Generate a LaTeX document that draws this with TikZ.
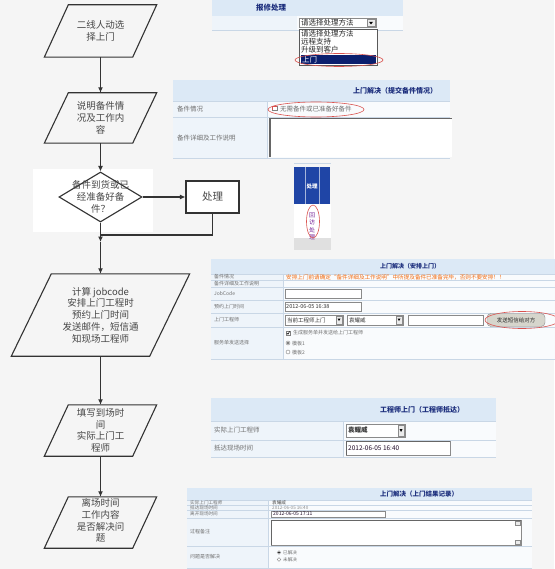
\documentclass[tikz,border=0pt]{standalone}
\usepackage{fontspec}
\setmainfont{Noto Sans CJK SC}
\usetikzlibrary{shapes.geometric,arrows.meta,calc}
\definecolor{bg}{HTML}{F5F5F5}
\definecolor{ln}{HTML}{333333}
\definecolor{ftxt}{HTML}{474747}
\definecolor{hdr}{HTML}{DCE9F6}
\definecolor{rowl}{HTML}{EEF4FA}
\definecolor{rowr}{HTML}{F9FBFD}
\definecolor{gridc}{HTML}{C9D7E6}
\definecolor{navy}{HTML}{1B2D7C}
\definecolor{labc}{HTML}{707070}
\definecolor{selc}{HTML}{0B1F6E}
\definecolor{redc}{HTML}{D9534F}
\definecolor{blu}{HTML}{1F45A6}
\definecolor{orgc}{HTML}{F26B10}
\definecolor{btnc}{HTML}{D6D5CC}
\definecolor{purp}{HTML}{7A2A9A}
\definecolor{inpc}{HTML}{8A8A8A}
\tikzset{
  flow/.style={draw=ln, line width=1.1pt},
  arr/.style={flow, -{Latex[length=5.5pt,width=5pt]}},
  pbox/.style={rectangle, inner sep=0pt, align=center, text=ftxt,
    font=\fontsize{9.5}{11.7}\selectfont},
  dia/.style={diamond, draw=ln, line width=1.1pt, inner sep=0pt,
    minimum width=83pt, minimum height=50pt, fill=white},
  procbox/.style={rectangle, draw=ln, line width=1.1pt, fill=white,
    minimum width=53pt, minimum height=32pt, inner sep=0pt,
    font=\fontsize{10.5}{12}\selectfont, text=ftxt},
  ttl/.style={inner sep=0pt, text=navy, font=\fontsize{7}{8}\selectfont\bfseries},
  lab/.style={anchor=west, inner sep=0pt, text=labc, font=\fontsize{6.5}{7}\selectfont},
  labs/.style={anchor=west, inner sep=0pt, text=labc, font=\fontsize{5}{5.5}\selectfont},
  val/.style={anchor=west, inner sep=0pt, text=black!85, font=\fontsize{7.5}{8}\selectfont},
  vals/.style={anchor=west, inner sep=0pt, text=black!80, font=\fontsize{5.5}{6}\selectfont},
  inp/.style={draw=inpc, fill=white, line width=0.5pt},
  gline/.style={draw=gridc, line width=0.5pt},
  ring/.style={draw=redc, line width=0.6pt},
  dbtn/.style={draw=inpc, fill=black!8, line width=0.4pt},
}
\begin{document}
\begin{tikzpicture}[x=1pt,y=-1pt]
\useasboundingbox (0,0) rectangle (554,569);
\fill[bg] (0,0) rectangle (554,569);
\fill[white] (33,169) rectangle (153,232);

% ---------------- flowchart ----------------
\node[pbox, minimum width=88pt, minimum height=52pt] (p1) at (100.5,31) {二线人动选\\择上门};
\node[pbox, minimum width=88pt, minimum height=50pt] (p2) at (100.5,118) {说明备件情\\况及工作内\\容};
\node[dia] (d) at (100.5,197) {};
\node[pbox] (dt) at (100.5,197) {备件到货或已\\经准备好备\\件？};
\node[procbox] (b) at (212.5,197) {处理};
\node[pbox, minimum width=138pt, minimum height=82pt] (p3) at (100.5,315) {计算 jobcode\\安排上门工程时\\预约上门时间\\发送邮件，短信通\\知现场工程师};
\node[pbox, minimum width=88pt, minimum height=51pt] (p4) at (100.5,430.5) {填写到场时\\间\\实际上门工\\程师};
\node[pbox, minimum width=88pt, minimum height=51pt] (p5) at (100.5,522.5) {};
\node[pbox] (p5t) at (100.5,520.5) {离场时间\\工作内容\\是否解决问\\题};
\foreach \n/\s in {p1/12,p2/12,p3/20,p4/12,p5/12}{
  \draw[flow] ([xshift=-\s pt]\n.south west) -- ([xshift=-\s pt]\n.south east)
    -- ([xshift=\s pt]\n.north east) -- ([xshift=\s pt]\n.north west) -- cycle;
}
\coordinate (j) at (100.5,235);
\coordinate (jt) at (100.5,242);
\draw[arr] (p1.south) -- (p2.north);
\draw[arr] (p2.south) -- (d.north);
\draw[arr] (d.east) -- (b.west);
\draw[arr] (d.south) -- (jt);
\draw[flow] (b.south) |- (j);
\draw[arr] (jt) -- (p3.north);
\draw[arr] (p3.south) -- (p4.north);
\draw[arr] (p4.south) -- (p5.north);

% ---------------- screenshot 1 ----------------
\fill[hdr] (212,0) rectangle (403,16);
\fill[rowl] (212,16) rectangle (297,30);
\fill[rowr] (297,16) rectangle (403,30);
\draw[gline] (212,30) -- (403,30);
\node[ttl, font=\fontsize{7.5}{8}\selectfont\bfseries] (s1t) at (271,7.5) {报修处理};
\draw[inp] (299,18) rectangle (376,27.5);
\node[val] (s1v) at (301,22.7) {请选择处理方法};
\draw[dbtn] (367,19.5) rectangle (375,26.5);
\fill[black] (369,21.8) -- (373,21.8) -- (371,24.5) -- cycle;
\draw[draw=black!65, fill=white, line width=0.8pt] (299,29) rectangle (377,65);
\node[val] (s1a) at (301,34) {请选择处理方法};
\node[val] (s1b) at (301,42) {远程支持};
\node[val] (s1c) at (301,50) {升级到客户};
\fill[selc] (300.5,55) rectangle (375.5,64);
\node[val, text=white] (s1d) at (302,59.5) {上门};
\draw[ring] (339,60) ellipse [x radius=44, y radius=6.5];

% ---------------- screenshot 2 ----------------
\fill[rowr] (173,80) rectangle (450,158);
\fill[hdr] (173,80) rectangle (450,101);
\fill[rowl] (173,101) rectangle (267,158);
\draw[gline] (173,101) -- (450,101) (173,117) -- (450,117) (173,158) -- (450,158) (267,101) -- (267,158);
\node[ttl] (s2t) at (395,91) {上门解决（提交备件情况）};
\node[lab] (s2l1) at (177,109) {备件情况};
\draw[draw=black!50, fill=white, line width=0.4pt] (272.5,106) rectangle (277,110.5);
\draw[redc, line width=0.7pt] (272.5,110.5) -- (272.5,106) -- (277,106);
\node[lab] (s2c) at (280,109) {无需备件或已准备好备件};
\draw[ring] (316,109.5) ellipse [x radius=48, y radius=7.5];
\node[lab] (s2l2) at (177,138) {备件详细及工作说明};
\fill[white] (270,118.5) rectangle (452,157);
\draw[draw=black!60, line width=1.2pt] (270,157) -- (270,118.5) -- (452,118.5);

% ---------------- screenshot 3 ----------------
\draw[gline] (294,163.5) -- (331,163.5);
\fill[blu] (294,167) rectangle (330,204);
\draw[white!60!blu, line width=0.5pt] (305,167) -- (305,204) (319,167) -- (319,204);
\node[inner sep=0pt, text=white, font=\fontsize{5.5}{6}\selectfont\bfseries] (s3h) at (312,186) {处理};
\fill[white] (294,204) rectangle (331,238);
\fill[black!12] (294,238) rectangle (331,250);
\node[inner sep=0pt, align=center, text=purp, font=\fontsize{6}{7.5}\selectfont] (s3v) at (312,226) {回\\访\\处\\理};
\draw[ring] (313,221.5) ellipse [x radius=6.5, y radius=16.5];

% ---------------- screenshot 4 ----------------
\fill[rowr] (211,259) rectangle (560,359);
\fill[hdr] (211,259) rectangle (560,274);
\fill[rowl] (211,274) rectangle (283,359);
\draw[gline] (211,274) -- (560,274) (211,280) -- (560,280) (211,287) -- (560,287)
  (211,300) -- (560,300) (211,313) -- (560,313) (211,327) -- (560,327) (211,359) -- (560,359)
  (283,274) -- (283,359);
\node[ttl, font=\fontsize{6}{7}\selectfont\bfseries] (s4t) at (410,266) {上门解决（安排上门）};
\node[labs] (s4l1) at (214,277) {备件情况};
\node[labs] (s4l2) at (214,283.5) {备件详细及工作说明};
\node[labs] (s4l3) at (214,293.5) {JobCode};
\node[labs] (s4l4) at (214,306.5) {预约上门时间};
\node[labs] (s4l5) at (214,320) {上门工程师};
\node[labs] (s4l6) at (214,343) {服务单发送选择};
\node[labs, text=orgc, font=\fontsize{5.6}{6}\selectfont] (s4o) at (286,277) {安排上门前请确定“备件详细及工作说明”中所提及备件已准备完毕，否则不要安排！！};
\draw[inp] (285,289) rectangle (361,298);
\draw[inp] (285,302) rectangle (361,311);
\node[vals] (s4d) at (286,306.5) {2012-06-05 16:38};
\draw[inp] (285,315) rectangle (343,325);
\node[vals] (s4e1) at (287,320) {当前工程师上门};
\draw[dbtn] (336,316) rectangle (342,324);
\fill[black] (337.5,318.5) -- (340.5,318.5) -- (339,321) -- cycle;
\draw[inp] (347,315) rectangle (403,325);
\node[vals] (s4e2) at (349,320) {袁耀威};
\draw[dbtn] (396,316) rectangle (402,324);
\fill[black] (397.5,318.5) -- (400.5,318.5) -- (399,321) -- cycle;
\draw[inp] (408,315) rectangle (483,325);
\draw[draw=black!45, fill=btnc, rounded corners=4pt] (487,313.5) rectangle (545,326.5);
\node[inner sep=0pt, text=black!85, font=\fontsize{5.5}{6}\selectfont] (s4b) at (516,320) {发送短信给对方};
\draw[ring] (522,320) ellipse [x radius=37, y radius=8.5];
\draw[draw=black!50, fill=white, line width=0.4pt] (286,331) rectangle (290,335);
\draw[black, line width=0.5pt] (286.8,333) -- (288,334.3) -- (289.6,331.5);
\node[labs] (s4c) at (293,333) {生成服务单并发送给上门工程师};
\draw[draw=black!50, fill=white, line width=0.4pt] (288,343) circle [radius=2];
\fill[black] (288,343) circle [radius=0.9];
\node[labs] (s4r1) at (292,343.5) {模板1};
\draw[draw=black!50, fill=white, line width=0.4pt] (288,352) circle [radius=2];
\node[labs] (s4r2) at (292,352.5) {模板2};

% ---------------- screenshot 5 ----------------
\fill[rowr] (211,398) rectangle (496,457);
\fill[hdr] (211,398) rectangle (496,421);
\fill[rowl] (211,421) rectangle (343,457);
\draw[gline] (211,421) -- (496,421) (211,440) -- (496,440) (211,457) -- (496,457) (343,421) -- (343,457);
\node[ttl] (s5t) at (422,410) {工程师上门（工程师抵达）};
\node[lab] (s5l1) at (214,430.5) {实际上门工程师};
\node[lab] (s5l2) at (214,448.5) {抵达现场时间};
\draw[inp] (346,424) rectangle (405,437);
\node[vals, font=\fontsize{6.5}{7}\selectfont\bfseries] (s5v1) at (348,430.5) {袁耀威};
\draw[dbtn] (398,425) rectangle (404,436);
\fill[black] (399.5,429) -- (402.5,429) -- (401,432) -- cycle;
\fill[white] (346,441) rectangle (450,455);
\draw[draw=black!60, line width=1pt] (346,455) -- (346,441) -- (450,441);
\draw[inpc, line width=0.4pt] (450,441) -- (450,455) -- (346,455);
\node[vals, font=\fontsize{6.5}{7}\selectfont, text=black!75!purp] (s5v2) at (348,448.5) {2012-06-05 16:40};

% ---------------- screenshot 6 ----------------
\fill[rowr] (187,488) rectangle (532,568);
\fill[hdr] (187,488) rectangle (532,500);
\fill[rowl] (187,500) rectangle (268,568);
\draw[gline] (187,500) -- (532,500) (187,505.5) -- (532,505.5) (187,510) -- (532,510)
  (187,518) -- (532,518) (187,546) -- (532,546) (187,568) -- (532,568) (268,500) -- (268,568);
\node[ttl, font=\fontsize{6.5}{7}\selectfont\bfseries] (s6t) at (419,494) {上门解决（上门结果记录）};
\node[labs, font=\fontsize{4.6}{5}\selectfont] (s6l1) at (190,502.8) {实际上门工程师};
\node[labs, font=\fontsize{4.6}{5}\selectfont] (s6l2) at (190,507.8) {抵达现场时间};
\node[labs, font=\fontsize{4.6}{5}\selectfont] (s6l3) at (190,514) {离开现场时间};
\node[labs] (s6l4) at (190,532) {过程备注};
\node[labs] (s6l5) at (190,557) {问题是否解决};
\node[labs, font=\fontsize{4.6}{5}\selectfont, text=black!70] (s6v1) at (272,502.8) {袁耀威};
\node[labs, font=\fontsize{4.6}{5}\selectfont, text=black!45] (s6v2) at (272,507.8) {2012-06-05 16:40};
\draw[inp] (271,510.8) rectangle (385,517.3);
\node[labs, font=\fontsize{5}{5.5}\selectfont, text=black!75!purp] (s6v3) at (273,514) {2012-06-05 17:11};
\fill[white] (271,520) rectangle (521,545);
\draw[draw=black!60, line width=0.9pt] (271,545) -- (271,520) -- (521,520);
\draw[inpc, line width=0.4pt] (521,520) -- (521,545) -- (271,545);
\draw[dbtn] (515,521) rectangle (520,525);
\draw[dbtn] (515,540) rectangle (520,544);
\draw[draw=black!50, fill=white, line width=0.4pt] (279,552.5) circle [radius=1.8];
\fill[black] (279,552.5) circle [radius=0.8];
\node[labs, font=\fontsize{4.6}{5}\selectfont] (s6r1) at (283,553) {已解决};
\draw[draw=black!50, fill=white, line width=0.4pt] (279,559.5) circle [radius=1.8];
\node[labs, font=\fontsize{4.6}{5}\selectfont] (s6r2) at (283,560) {未解决};
\end{tikzpicture}
\end{document}
